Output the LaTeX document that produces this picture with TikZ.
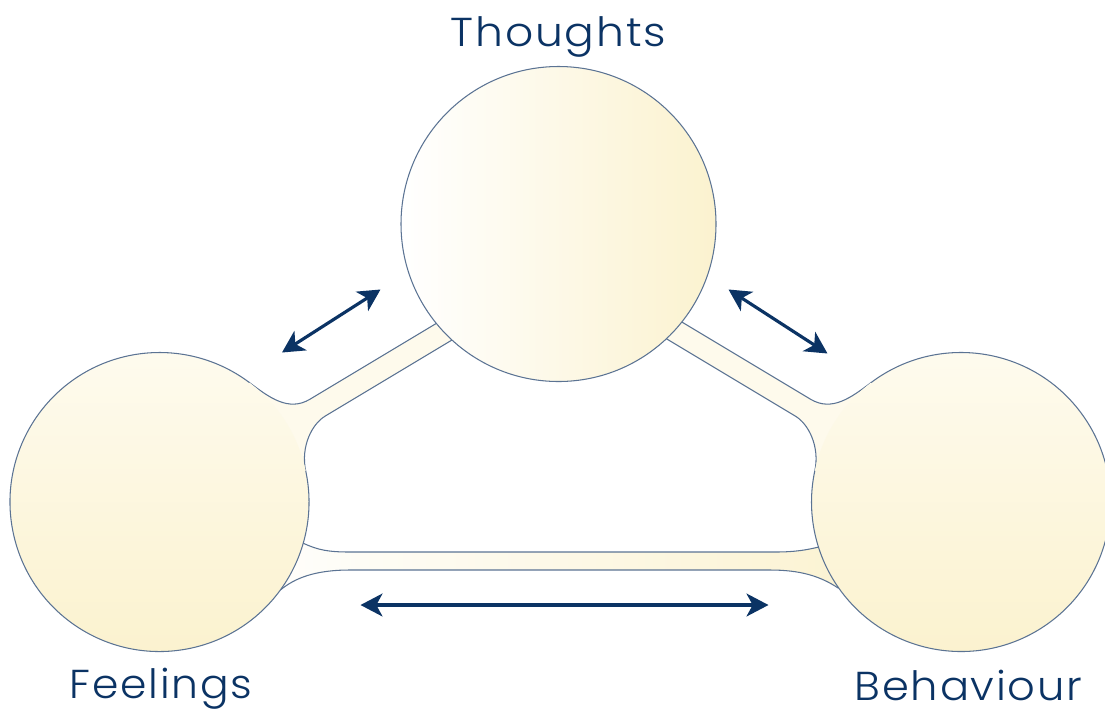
\documentclass[tikz,border=0pt]{standalone}
\usepackage{fontspec}
\setmainfont{Poppins Light}
\usetikzlibrary{arrows.meta}
\definecolor{navy}{HTML}{0B3364}
\definecolor{edgecol}{HTML}{5B7393}
\definecolor{cream}{HTML}{FBF2CF}
\definecolor{creamtop}{HTML}{FEFBEE}
\definecolor{creamlight}{HTML}{FEFAEC}
\newcommand\tfbridgepath{(249.5,382.6) .. controls (269.5,397.6) and (288.6,412) .. (310,399.2) -- (470,303.2) -- (480,323.2) -- (325,416.2) .. controls (312.1,423.9) and (300.5,446.5) .. (305.7,470.9) -- (200,480) -- cycle}
\newcommand\bottombridgepath{(303.2,543.2) .. controls (318,550) and (328,552) .. (350,552) -- (775,552) .. controls (797,552) and (808,549.5) .. (818.4,547.1) -- (900,560) -- (838.1,588) .. controls (820,576) and (800,570) .. (770,570) -- (350,570) .. controls (315,570) and (295,578) .. (280.5,589.9) -- (220,560) -- cycle}
\begin{document}
\begin{tikzpicture}[x=0.02cm,y=-0.02cm,
  outline/.style={draw=edgecol,line width=0.6pt},
  twoway/.style={{Stealth[length=12.5pt,width=13pt,inset=3.5pt]}-{Stealth[length=12.5pt,width=13pt,inset=3.5pt]},draw=navy,line width=1.8pt},
  lbl/.style={text=navy,font=\fontsize{23}{28}\selectfont\addfontfeature{LetterSpace=4},inner sep=0pt}]
\useasboundingbox (0,0) rectangle (1105,711);
\clip (0,0) rectangle (1105,711);
% bottom bridge
\shade[left color=white,right color=cream] \bottombridgepath;
\path[outline] \bottombridgepath;
% diagonal bridges
\path[outline,fill=creamlight] \tfbridgepath;
\begin{scope}[shift={(1120.5,0)},xscale=-1]
\path[outline,fill=creamlight] \tfbridgepath;
\end{scope}
% circles
\shade[left color=white,right color=cream] (558.5,224) circle[radius=157.5];
\draw[outline] (558.5,224) circle[radius=157.5];
\shade[top color=creamtop,bottom color=cream] (159.5,502) circle[radius=149.5];
\draw[outline] (159.5,502) ++(-12:149.5) arc[start angle=-12,end angle=307,radius=149.5];
\shade[top color=creamtop,bottom color=cream] (961,502) circle[radius=149.5];
\draw[outline] (961,502) ++(233:149.5) arc[start angle=233,end angle=552,radius=149.5];
% arrows
\coordinate (l1) at (282,352.5);
\coordinate (l2) at (380.5,289.5);
\coordinate (r1) at (728.5,289.5);
\coordinate (r2) at (827.5,353.5);
\coordinate (b1) at (360.5,605);
\coordinate (b2) at (768.5,605);
\draw[twoway] (l1) -- (l2);
\draw[twoway] (r1) -- (r2);
\draw[twoway] (b1) -- (b2);
% labels
\node[lbl,anchor=base] (thoughts) at (558.5,46.7) {\scalebox{1.09}[1]{Thoughts}};
\node[lbl,anchor=base] (feelings) at (161,698.3) {\scalebox{1.05}[1]{Feelings}};
\node[lbl,anchor=base] (behaviour) at (968.5,700) {\scalebox{1.07}[1]{Behaviour}};
\end{tikzpicture}
\end{document}
